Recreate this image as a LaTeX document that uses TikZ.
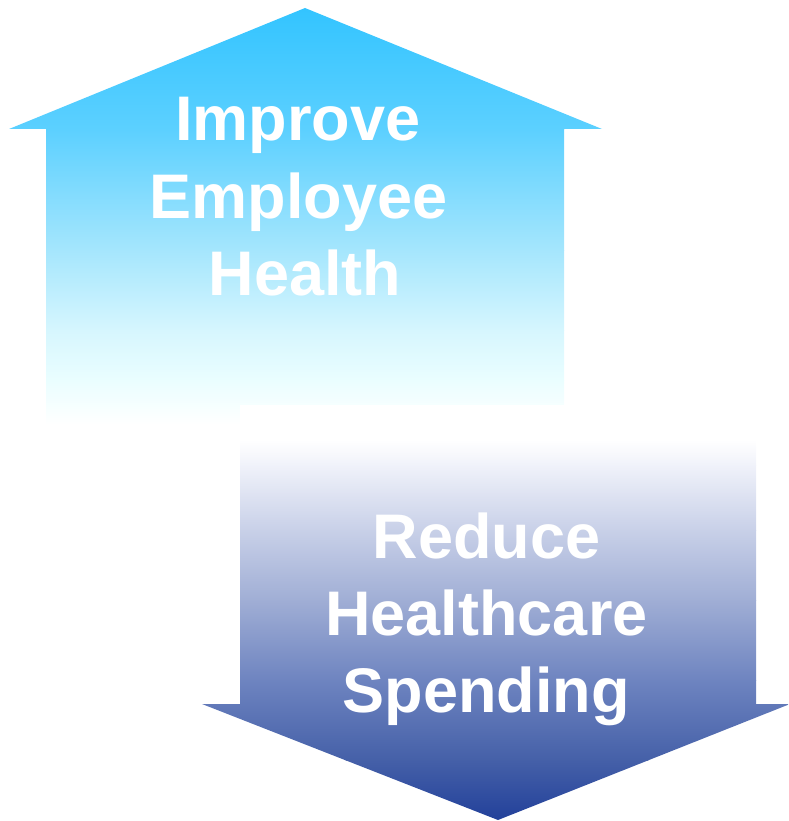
\documentclass[tikz,border=0pt]{standalone}
\usepackage{fontspec}
\setmainfont{Liberation Sans}
\begin{document}
\begin{tikzpicture}[x=1pt,y=-1pt,
  label/.style={text=white,font=\fontsize{63}{77}\selectfont\bfseries,inner sep=0pt,anchor=base}]
\useasboundingbox (0,0) rectangle (788,821);
\definecolor{ua}{RGB}{51,196,255}
\definecolor{ub}{RGB}{92,208,255}
\definecolor{uc}{RGB}{165,230,253}
\definecolor{ud}{RGB}{214,246,254}
\definecolor{ue}{RGB}{234,254,255}
\definecolor{da}{RGB}{240,242,250}
\definecolor{db}{RGB}{200,208,232}
\definecolor{dc}{RGB}{160,174,213}
\definecolor{dd}{RGB}{110,132,192}
\definecolor{de}{RGB}{69,96,168}
\definecolor{df}{RGB}{34,64,154}
% up arrow
\begin{scope}
\clip (305,8) -- (602,129) -- (564,129) -- (564,437) -- (46,437) -- (46,129) -- (9,129) -- cycle;
\shade[top color=ua,bottom color=ub] (0,7) rectangle (788,130);
\shade[top color=ub,bottom color=uc] (0,129.5) rectangle (788,250.5);
\shade[top color=uc,bottom color=ud] (0,250) rectangle (788,330.5);
\shade[top color=ud,bottom color=ue] (0,330) rectangle (788,380.5);
\shade[top color=ue,bottom color=white] (0,380) rectangle (788,425);
\fill[white] (0,424.5) rectangle (788,438);
\end{scope}
% down arrow
\begin{scope}
\clip (240,405) -- (756,405) -- (756,704) -- (790,704) -- (498,820) -- (202,704) -- (240,704) -- cycle;
\fill[white] (0,404) rectangle (788,440.5);
\shade[top color=white,bottom color=da] (0,440) rectangle (788,465.5);
\shade[top color=da,bottom color=db] (0,465) rectangle (788,530.5);
\shade[top color=db,bottom color=dc] (0,530) rectangle (788,600.5);
\shade[top color=dc,bottom color=dd] (0,600) rectangle (788,680.5);
\shade[top color=dd,bottom color=de] (0,680) rectangle (788,760.5);
\shade[top color=de,bottom color=df] (0,760) rectangle (788,821);
\end{scope}
\node[label] (t1) at (298,141) {Improve};
\node[label] (t2) at (298.5,218) {Employee};
\node[label] (t3) at (305,295) {Health};
\node[label] (b1) at (486.5,558) {Reduce};
\node[label] (b2) at (486.5,635) {Healthcare};
\node[label] (b3) at (486,712) {Spending};
\end{tikzpicture}
\end{document}
